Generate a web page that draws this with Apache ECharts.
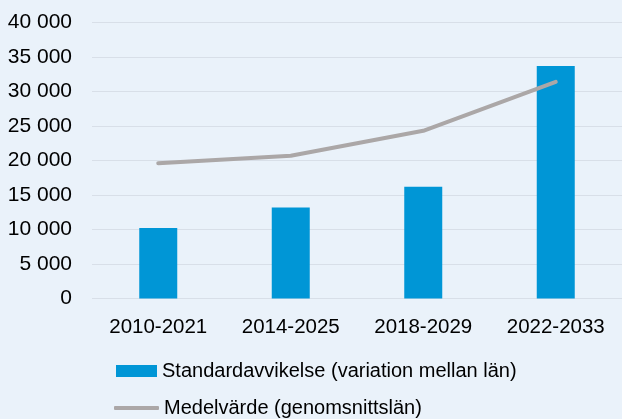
<!DOCTYPE html>
<html>
<head>
<meta charset="utf-8">
<script src="https://cdn.jsdelivr.net/npm/echarts@6/dist/echarts.min.js"></script>
<style>
  html, body { margin: 0; padding: 0; background: #EAF2FA; }
  #chart { width: 622px; height: 419px; }
</style>
</head>
<body>
<div id="chart"></div>
<script>
const periods = ['2010-2021', '2014-2025', '2018-2029', '2022-2033'];
const stdDev = [10200, 13200, 16200, 33700];
const meanValue = [19600, 20700, 24300, 31400];

const fmt = v => String(v).replace(/\B(?=(\d{3})+(?!\d))/g, ' ');

const chart = echarts.init(document.getElementById('chart'));
chart.setOption({
  backgroundColor: '#EAF2FA',
  textStyle: { fontFamily: 'Liberation Sans, Arial, sans-serif' },
  animation: false,
  grid: { left: 92, right: -4, top: 22.5, bottom: 120.5 },
  legend: [
    {
      left: 111,
      top: 356,
      itemWidth: 41,
      itemHeight: 12,
      icon: 'rect',
      textStyle: { fontSize: 20, color: '#000' },
      data: ['Standardavvikelse (variation mellan län)']
    },
    {
      left: 109,
      top: 393,
      itemWidth: 45,
      itemHeight: 4,
      icon: 'roundRect',
      itemStyle: { color: '#ABA7A7' },
      textStyle: { fontSize: 20, color: '#000' },
      data: ['Medelvärde (genomsnittslän)']
    }
  ],
  xAxis: {
    type: 'category',
    data: periods,
    axisLine: { show: false },
    axisTick: { show: false },
    axisLabel: { fontSize: 20.5, color: '#000', margin: 18 }
  },
  yAxis: {
    type: 'value',
    min: 0,
    max: 40000,
    interval: 5000,
    axisLabel: { fontSize: 21, color: '#000', margin: 20, formatter: fmt },
    splitLine: { lineStyle: { color: '#D8DFE8', width: 1 } }
  },
  series: [
    {
      name: 'Standardavvikelse (variation mellan län)',
      type: 'bar',
      data: stdDev,
      barWidth: 38,
      itemStyle: { color: '#0096D6' }
    },
    {
      name: 'Medelvärde (genomsnittslän)',
      type: 'line',
      data: meanValue,
      symbol: 'none',
      lineStyle: { color: '#ABA7A7', width: 4, cap: 'round' },
      itemStyle: { color: '#ABA7A7' }
    }
  ]
});
</script>
</body>
</html>
